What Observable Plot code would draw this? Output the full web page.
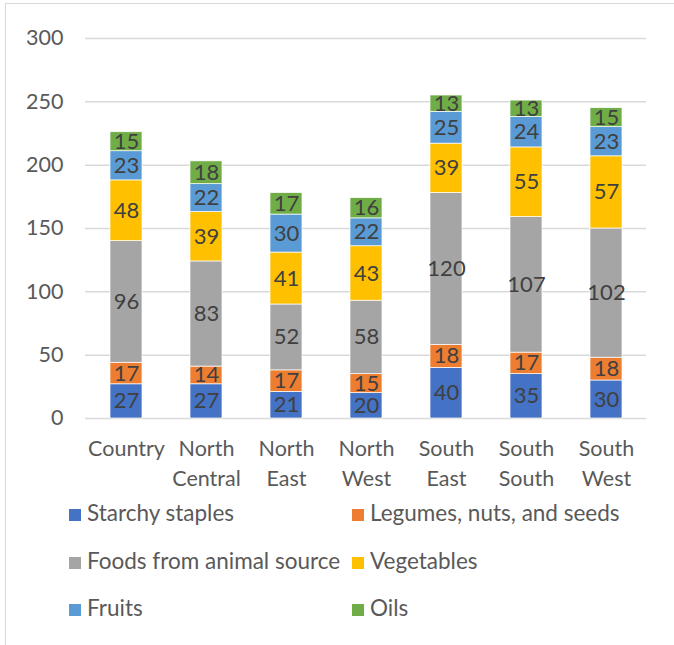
<!DOCTYPE html>
<html>
<head>
<meta charset="utf-8">
<script src="https://cdn.jsdelivr.net/npm/d3@7"></script>
<script src="https://cdn.jsdelivr.net/npm/@observablehq/plot@0.6"></script>
<style>
  html, body { margin: 0; padding: 0; background: #fff; }
  #wrap { position: relative; width: 674px; height: 645px; overflow: hidden; font-family: Lato, "Open Sans", sans-serif; }
  #frame { position: absolute; left: 5px; top: 3px; width: 700px; height: 700px; border-left: 1.5px solid #d9d9d9; border-top: 1.5px solid #d9d9d9; box-sizing: border-box; pointer-events: none; }
  #chart { position: absolute; left: 0; top: 0; }
  .leg { position: absolute; font-size: 22.5px; color: #595959; white-space: nowrap; line-height: 22px; }
  .leg span.sw { display: inline-block; width: 12px; height: 12px; margin-right: 6px; vertical-align: 0px; }
</style>
</head>
<body>
<div id="wrap">
  <div id="frame"></div>
  <div id="chart"></div>
  <div id="legend"></div>
</div>
<script>
const regions = ["Country", "North Central", "North East", "North West", "South East", "South South", "South West"];
const regionLabels = ["Country", "North\nCentral", "North\nEast", "North\nWest", "South\nEast", "South\nSouth", "South\nWest"];
const seriesNames = ["Starchy staples", "Legumes, nuts, and seeds", "Foods from animal source", "Vegetables", "Fruits", "Oils"];
const seriesColors = ["#4472C4", "#ED7D31", "#A5A5A5", "#FFC000", "#5B9BD5", "#70AD47"];
const starchy    = [27, 27, 21, 20, 40, 35, 30];
const legumes    = [17, 14, 17, 15, 18, 17, 18];
const animal     = [96, 83, 52, 58, 120, 107, 102];
const vegetables = [48, 39, 41, 43, 39, 55, 57];
const fruits     = [23, 22, 30, 22, 25, 24, 23];
const oils       = [15, 18, 17, 16, 13, 13, 15];
const yTicks = [0, 50, 100, 150, 200, 250, 300];

const seriesValues = [starchy, legumes, animal, vegetables, fruits, oils];
const data = [];
seriesNames.forEach((s, i) => {
  regions.forEach((r, j) => data.push({region: r, series: s, value: seriesValues[i][j]}));
});
const labelOf = new Map(regions.map((r, i) => [r, regionLabels[i]]));

const chart = Plot.plot({
  width: 674,
  height: 500,
  marginTop: 38,
  marginBottom: 82,
  marginLeft: 85,
  marginRight: 28,
  style: {fontFamily: "Lato, 'Open Sans', sans-serif", background: "transparent"},
  x: {domain: regions, paddingInner: 0.6, paddingOuter: 0.3, label: null},
  y: {domain: [0, 300], label: null},
  color: {domain: seriesNames, range: seriesColors},
  marks: [
    Plot.gridY(yTicks, {stroke: "#d9d9d9", strokeOpacity: 1, strokeWidth: 1.5}),
    Plot.axisY(yTicks, {tickSize: 0, tickPadding: 22, fontSize: 21.5, fill: "#595959", label: null}),
    Plot.axisX({tickSize: 0, tickPadding: 16, fontSize: 21.5, fill: "#595959", lineHeight: 1.4, tickFormat: d => labelOf.get(d), label: null}),
    Plot.barY(data, Plot.stackY({x: "region", y: "value", fill: "series", order: seriesNames, stroke: "#fff", strokeWidth: 0.7})),
    Plot.text(data, Plot.stackY({x: "region", y: "value", z: "series", order: seriesNames, text: "value", fontSize: 22, fill: "#404040"}))
  ]
});
document.getElementById("chart").appendChild(chart);

// legend (HTML, below the plot)
const legend = document.getElementById("legend");
const legPos = [[69, 502], [352, 502], [69, 550], [352, 550], [69, 597], [352, 597]];
seriesNames.forEach((s, i) => {
  const d = document.createElement("div");
  d.className = "leg";
  d.style.left = legPos[i][0] + "px";
  d.style.top = legPos[i][1] + "px";
  d.innerHTML = `<span class="sw" style="background:${seriesColors[i]}"></span>${s}`;
  legend.appendChild(d);
});
</script>
</body>
</html>
